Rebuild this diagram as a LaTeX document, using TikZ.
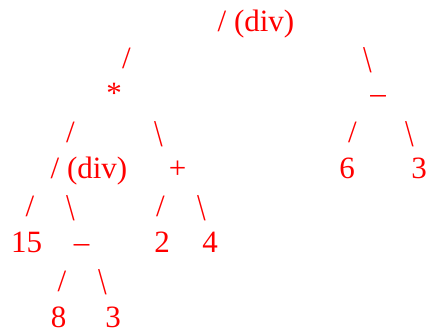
\documentclass[tikz,border=0pt]{standalone}
\usepackage{fontspec}
\usepackage{graphicx}
\setmainfont{Liberation Serif}
\definecolor{treered}{RGB}{255,0,0}
\newcommand{\tallbs}{\scalebox{1}[1.22]{\textbackslash}}
\begin{document}
\begin{tikzpicture}[x=1pt,y=-1pt,
  lbl/.style={inner sep=0pt,outer sep=0pt,anchor=base,text=treered,font=\fontsize{31}{37}\selectfont},
  sl/.style={lbl},
  bsl/.style={lbl,yshift=-3.6pt}]
\useasboundingbox (0,0) rectangle (426,331);
% row 1
\node[lbl] (root) at (256,32) {/ (div)};
% row 2
\node[sl]  (e1) at (126.5,69) {/};
\node[bsl] (e2) at (368,69) {\tallbs};
% row 3
\node[lbl] (mul) at (114,104) {*};
\node[lbl] (sub1) at (378,104) {–};
% row 4
\node[sl]  (e3) at (70.5,143) {/};
\node[bsl] (e4) at (159,143) {\tallbs};
\node[sl]  (e5) at (352.5,143) {/};
\node[bsl] (e6) at (409.5,143) {\tallbs};
% row 5
\node[lbl] (div2) at (89,179) {/ (div)};
\node[lbl] (plus) at (177.5,179) {+};
\node[lbl] (six) at (347,179) {6};
\node[lbl] (three1) at (419,179) {3};
% row 6
\node[sl]  (e7) at (30,217) {/};
\node[bsl] (e8) at (71,217) {\tallbs};
\node[sl]  (e9) at (160.5,217) {/};
\node[bsl] (e10) at (202,217) {\tallbs};
% row 7
\node[lbl] (fifteen) at (26.5,253) {15};
\node[lbl] (sub2) at (81.5,253) {–};
\node[lbl] (two) at (162,253) {2};
\node[lbl] (four) at (210,253) {4};
% row 8
\node[sl]  (e11) at (62,291) {/};
\node[bsl] (e12) at (103,291) {\tallbs};
% row 9
\node[lbl] (eight) at (58.5,327) {8};
\node[lbl] (three2) at (113,327) {3};
\end{tikzpicture}
\end{document}
